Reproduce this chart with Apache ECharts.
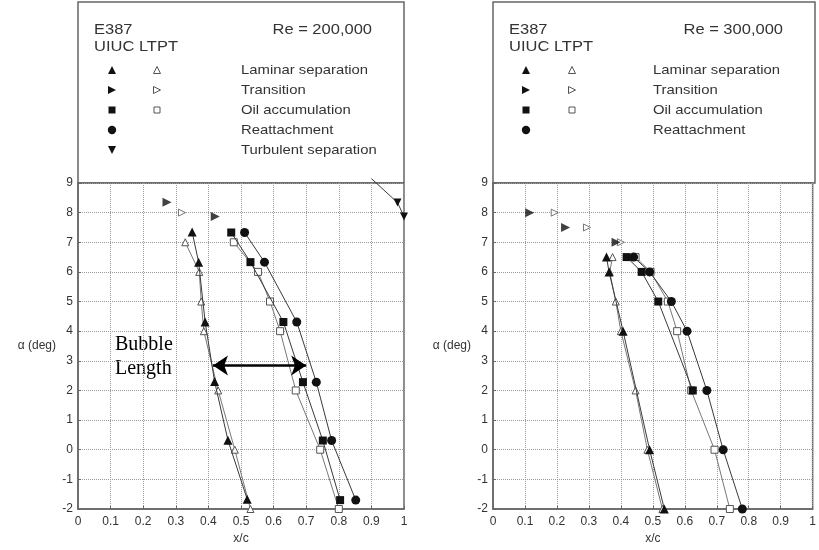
<!DOCTYPE html>
<html>
<head>
<meta charset="utf-8">
<script src="https://cdn.jsdelivr.net/npm/echarts@6.0.0/dist/echarts.min.js"></script>
<style>
  html, body { margin: 0; padding: 0; background: #fff; }
  #main { width: 819px; height: 550px; }
</style>
</head>
<body>
<div id="main"></div>
<script>
// E387 separation bubble, x/c vs alpha
// Re = 200,000
var lamSepUiuc200 = [[0.35, 7.35], [0.37, 6.33], [0.39, 4.31], [0.419, 2.3], [0.46, 0.32], [0.519, -1.67]]
var lamSepLtpt200 = [[0.329, 7.0], [0.372, 6.0], [0.378, 5.0], [0.386, 4.0], [0.43, 2.0], [0.481, 0.0], [0.529, -2.0]]
var transUiuc200 = [[0.273, 8.35], [0.421, 7.87]]
var transLtpt200 = [[0.319, 8.0]]
var oilUiuc200 = [[0.47, 7.33], [0.529, 6.33], [0.63, 4.31], [0.69, 2.28], [0.751, 0.31], [0.804, -1.7]]
var oilLtpt200 = [[0.478, 7.0], [0.552, 6.0], [0.589, 5.0], [0.62, 4.0], [0.668, 2.0], [0.743, 0.0], [0.8, -2.0]]
var reattUiuc200 = [[0.511, 7.33], [0.572, 6.33], [0.671, 4.31], [0.731, 2.28], [0.778, 0.31], [0.852, -1.7]]
var turbSepUiuc200 = [[0.9, 9.15], [0.98, 8.34], [1.0, 7.87]]
var bubble200 = [[0.414, 2.84], [0.7, 2.84]]

// Re = 300,000
var lamSepUiuc300 = [[0.355, 6.5], [0.363, 6.0], [0.407, 4.0], [0.49, 0.0], [0.536, -2.0]]
var lamSepLtpt300 = [[0.374, 6.5], [0.365, 6.0], [0.384, 5.0], [0.4, 4.0], [0.446, 2.0], [0.483, 0.0], [0.53, -2.0]]
var transUiuc300 = [[0.115, 8.0], [0.227, 7.5], [0.385, 7.0]]
var transLtpt300 = [[0.193, 8.0], [0.294, 7.5], [0.4, 7.0]]
var oilUiuc300 = [[0.418, 6.5], [0.465, 6.0], [0.517, 5.0], [0.625, 2.0]]
var oilLtpt300 = [[0.446, 6.5], [0.493, 6.0], [0.547, 5.0], [0.576, 4.0], [0.62, 2.0], [0.693, 0.0], [0.741, -2.0]]
var reattUiuc300 = [[0.44, 6.5], [0.49, 6.0], [0.558, 5.0], [0.607, 4.0], [0.669, 2.0], [0.72, 0.0], [0.78, -2.0]]

var legendLabels = ['Laminar separation', 'Transition', 'Oil accumulation', 'Reattachment', 'Turbulent separation']

var SANS = '"Liberation Sans", Arial, sans-serif'
var INK = '#333'

function marks (data, idx, symbol, rotate, open, joined, size) {
  return {
    type: joined ? 'line' : 'scatter',
    xAxisIndex: idx,
    yAxisIndex: idx,
    data: data,
    symbol: symbol,
    symbolRotate: rotate,
    symbolSize: size || (open ? 7 : 8),
    showSymbol: true,
    showAllSymbol: true,
    lineStyle: { color: open ? '#777' : '#3a3a3a', width: 1 },
    itemStyle: open
      ? { color: '#fff', borderColor: '#555', borderWidth: 1 }
      : { color: '#111' },
    z: open ? 2 : 3,
    silent: true,
    animation: false
  }
}

function axisPair (idx) {
  return {
    x: {
      type: 'value',
      gridIndex: idx,
      min: 0,
      max: 1,
      interval: 0.1,
      name: 'x/c',
      nameLocation: 'middle',
      nameGap: 24,
      nameTextStyle: { color: INK, fontSize: 12, fontFamily: SANS },
      axisLine: { show: true, onZero: false, lineStyle: { color: '#666', width: 1.5 } },
      axisTick: { show: true, inside: true, length: 3, lineStyle: { color: '#666' } },
      axisLabel: { color: INK, fontSize: 12, fontFamily: SANS, margin: 7 },
      splitLine: { show: true, lineStyle: { color: '#9a9a9a', type: 'dotted', width: 1 } }
    },
    y: {
      type: 'value',
      gridIndex: idx,
      min: -2,
      max: 9,
      interval: 1,
      name: 'α (deg)',
      nameLocation: 'middle',
      nameRotate: 0,
      nameGap: 22,
      nameTextStyle: { color: INK, fontSize: 12, fontFamily: SANS, align: 'right' },
      axisLine: { show: true, onZero: false, lineStyle: { color: '#666', width: 1.5 } },
      axisTick: { show: true, inside: true, length: 3, lineStyle: { color: '#666' } },
      axisLabel: { color: INK, fontSize: 12, fontFamily: SANS, margin: 5 },
      splitLine: { show: true, lineStyle: { color: '#9a9a9a', type: 'dotted', width: 1 } }
    }
  }
}

function txt (x, y, text, size, align, sx) {
  return {
    type: 'text',
    x: x,
    y: y,
    scaleX: sx || 1.1,
    silent: true,
    style: {
      text: text,
      font: size + 'px ' + SANS,
      fill: INK,
      align: align || 'left',
      textAlign: align || 'left',
      verticalAlign: 'middle',
      textVerticalAlign: 'middle'
    }
  }
}

function tri (cx, cy, s, dir, open) {
  var h = s / 2
  var pts
  if (dir === 'up') pts = [[cx, cy - h], [cx + h, cy + h], [cx - h, cy + h]]
  else if (dir === 'right') pts = [[cx - h, cy - h], [cx + h, cy], [cx - h, cy + h]]
  else pts = [[cx - h, cy - h], [cx + h, cy - h], [cx, cy + h]]
  return {
    type: 'polygon',
    silent: true,
    shape: { points: pts },
    style: open ? { fill: '#fff', stroke: '#555', lineWidth: 1 } : { fill: '#111' }
  }
}

function keyBox (left, width, re, rows, symA, symB, labelX) {
  var els = [{
    type: 'rect',
    silent: true,
    shape: { x: left, y: 2, width: width, height: 181 },
    style: { fill: 'none', stroke: '#666', lineWidth: 1.5 }
  }]
  els.push(txt(left + 16, 30, 'E387', 15))
  els.push(txt(left + 16, 47, 'UIUC LTPT', 15))
  els.push(txt(left + width - 32, 30, re, 15, 'right'))
  var ys = [70, 90, 110, 130, 150]
  els.push(tri(symA, ys[0], 8, 'up'))
  els.push(tri(symB, ys[0], 7, 'up', true))
  els.push(tri(symA, ys[1], 8, 'right'))
  els.push(tri(symB, ys[1], 7, 'right', true))
  els.push({ type: 'rect', silent: true, shape: { x: symA - 3.5, y: ys[2] - 3.5, width: 7, height: 7 }, style: { fill: '#111' } })
  els.push({ type: 'rect', silent: true, shape: { x: symB - 3, y: ys[2] - 3, width: 6, height: 6 }, style: { fill: '#fff', stroke: '#555', lineWidth: 1 } })
  els.push({ type: 'circle', silent: true, shape: { cx: symA, cy: ys[3], r: 4.2 }, style: { fill: '#111' } })
  if (rows > 4) els.push(tri(symA, ys[4], 8, 'down'))
  for (var i = 0; i < rows; i++) {
    els.push(txt(labelX, ys[i], legendLabels[i], 13.5))
  }
  return els
}

var a0 = axisPair(0)
var a1 = axisPair(1)

var turbSeries = marks(turbSepUiuc200.map(function (p, i) {
  return i === 0 ? { value: p, symbol: 'none' } : p
}), 0, 'triangle', 180, false, true)
turbSeries.clip = false

var arrowSeries = {
  type: 'scatter',
  xAxisIndex: 0,
  yAxisIndex: 0,
  data: [],
  silent: true,
  animation: false,
  markLine: {
    silent: true,
    animation: false,
    symbol: ['arrow', 'arrow'],
    symbolSize: [15, 15],
    label: { show: false },
    lineStyle: { color: '#000', width: 2.5, type: 'solid' },
    data: [[{ coord: bubble200[0] }, { coord: bubble200[1] }]]
  }
}

var option = {
  backgroundColor: '#fff',
  animation: false,
  grid: [
    { left: 78, top: 183, width: 326, height: 327, show: true, borderColor: '#666', borderWidth: 1.5 },
    { left: 493, top: 183, width: 322, height: 327, show: true, borderColor: '#666', borderWidth: 1.5 }
  ],
  xAxis: [a0.x, a1.x],
  yAxis: [a0.y, a1.y],
  series: [
    marks(lamSepLtpt200, 0, 'triangle', 0, true, true),
    marks(oilLtpt200, 0, 'rect', 0, true, true),
    marks(transLtpt200, 0, 'triangle', -90, true, false),
    marks(lamSepUiuc200, 0, 'triangle', 0, false, true, 9),
    marks(oilUiuc200, 0, 'rect', 0, false, true),
    marks(reattUiuc200, 0, 'circle', 0, false, true, 9),
    marks(transUiuc200, 0, 'triangle', -90, false, false, 9),
    turbSeries,
    arrowSeries,
    marks(lamSepLtpt300, 1, 'triangle', 0, true, true),
    marks(oilLtpt300, 1, 'rect', 0, true, true),
    marks(transLtpt300, 1, 'triangle', -90, true, false),
    marks(lamSepUiuc300, 1, 'triangle', 0, false, true, 9),
    marks(oilUiuc300, 1, 'rect', 0, false, true),
    marks(reattUiuc300, 1, 'circle', 0, false, true, 9),
    marks(transUiuc300, 1, 'triangle', -90, false, false, 9)
  ],
  graphic: keyBox(78, 326, 'Re = 200,000', 5, 112, 157, 241)
    .concat(keyBox(493, 322, 'Re = 300,000', 4, 526, 572, 653))
    .concat([
      {
        type: 'text',
        x: 115,
        y: 345,
        silent: true,
        style: { text: 'Bubble', font: '20px "Liberation Serif", "Times New Roman", serif', fill: '#000', verticalAlign: 'middle', textVerticalAlign: 'middle' }
      },
      {
        type: 'text',
        x: 115,
        y: 369,
        silent: true,
        style: { text: 'Length', font: '20px "Liberation Serif", "Times New Roman", serif', fill: '#000', verticalAlign: 'middle', textVerticalAlign: 'middle' }
      }
    ])
}

var chart = echarts.init(document.getElementById('main'), null, { renderer: 'canvas' })
chart.setOption(option)
</script>
</body>
</html>
